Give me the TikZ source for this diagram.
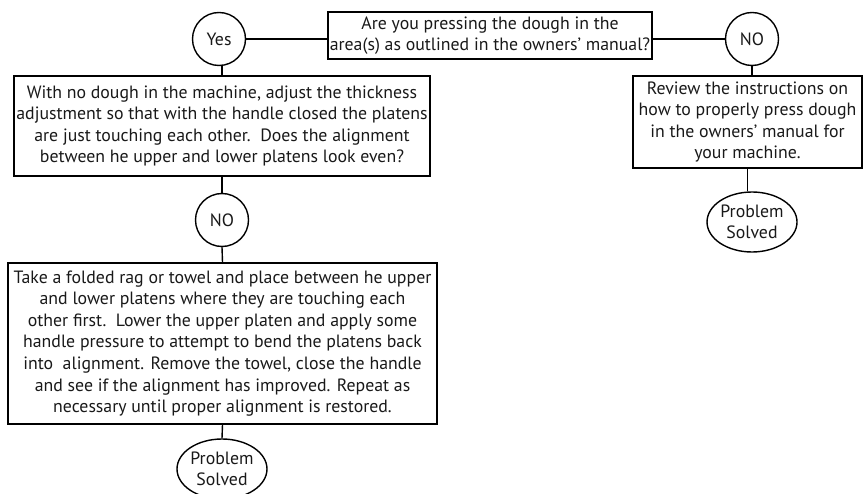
\documentclass[tikz,border=0pt]{standalone}
\usepackage{fontspec}
\setmainfont{PT Sans}
\usetikzlibrary{shapes.geometric}
\begin{document}
\begin{tikzpicture}[x=1pt,y=-1pt,line width=1.4pt,
  txt/.style={font=\fontsize{17.8}{21.6}\selectfont, text=black!90},
  box/.style={txt, draw, rectangle, inner sep=0pt, align=center},
  circ/.style={txt, draw, circle, inner sep=0pt, minimum size=53pt},
  ell/.style={txt, draw, ellipse, inner sep=0pt, minimum width=90pt, minimum height=60pt, align=center}]
\useasboundingbox (0,0) rectangle (866,494);
\clip (0,0) rectangle (866,494);
\node[box, minimum width=324pt, minimum height=47pt] (q) at (490,35.5)
  {Are you pressing the dough in the\\area(s) as outlined in the owners' manual?};
\node[circ] (yes) at (219,39) {Yes};
\node[circ] (no1) at (752,39) {NO};
\node[box, minimum width=229pt, minimum height=92pt] (rev) at (747.5,122)
  {Review the instructions on\\how to properly press dough\\in the owners' manual for\\your machine.};
\node[ell] (ps1) at (752,222) {Problem\\Solved};
\node[box, minimum width=416pt, minimum height=100pt] (b1) at (222,126)
  {With no dough in the machine, adjust the thickness\\adjustment so that with the handle closed the platens\\are just touching each other.\ \ Does the alignment\\between he upper and lower platens look even?};
\node[circ] (no2) at (222,220) {NO};
\node[box, minimum width=429pt, minimum height=161pt] (b2) at (222.5,343.5)
  {Take a folded rag or towel and place between he upper\\and lower platens where they are touching each\\other first.\ \ Lower the upper platen and apply some\\handle pressure to attempt to bend the platens back\\into\ \ alignment. Remove the towel, close the handle\\and see if the alignment has improved. Repeat as\\necessary until proper alignment is restored.};
\node[ell] (ps2) at (222,469) {Problem\\Solved};
\draw (yes.east) -- (yes.east -| q.west);
\draw (q.east |- no1.west) -- (no1.west);
\draw (no1.south) -- (no1.south |- rev.north);
\draw (rev.south) -- (rev.south |- ps1.north);
\draw (b1.north) -- (b1.north |- yes.south);
\draw (b1.south) -- (no2.north);
\draw (no2.south) -- (b2.north);
\draw (b2.south) -- (ps2.north);
\end{tikzpicture}
\end{document}
